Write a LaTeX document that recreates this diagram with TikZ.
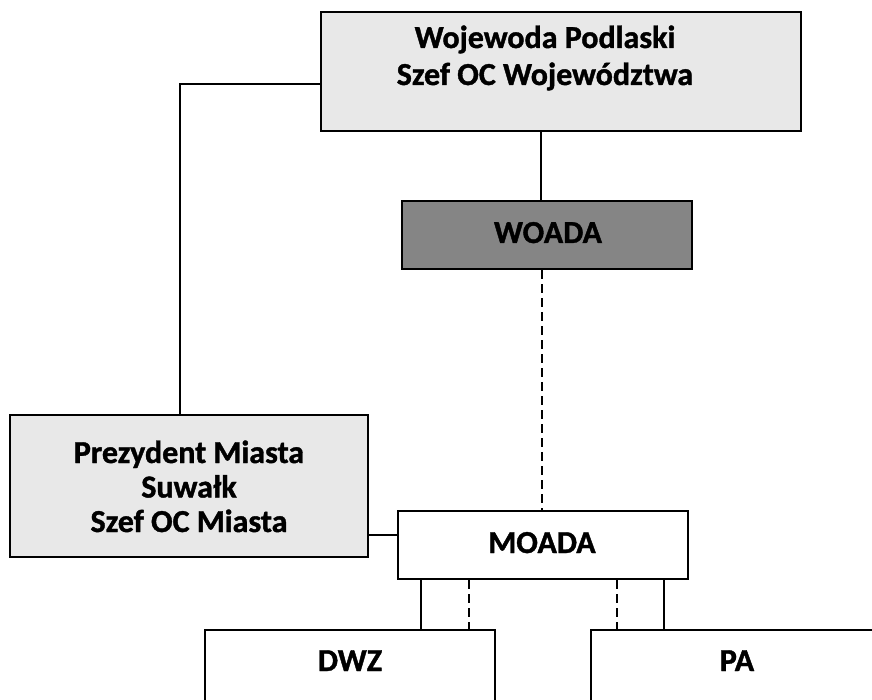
\documentclass[tikz,border=0pt]{standalone}
\usepackage{fontspec}
\setmainfont{Carlito}[BoldFeatures={FakeBold=1.2}]
\begin{document}
\begin{tikzpicture}[x=1pt,y=-1pt,
  box/.style={draw, rectangle, line width=2.8pt, inner sep=0pt},
  lightbox/.style={box, fill=black!9},
  darkbox/.style={box, fill=black!48},
  whitebox/.style={box, fill=white},
  conn/.style={line width=2pt},
  dashline/.style={line width=2pt, dash pattern=on 9pt off 5pt},
  txt/.style={font=\bfseries\fontsize{32}{37}\selectfont, anchor=base, inner sep=0pt}]
\useasboundingbox (0,0) rectangle (872,700);
\clip (0,0) rectangle (872,700);
\fill[white] (0,0) rectangle (872,700);
% boxes
\node[lightbox, minimum width=480pt, minimum height=119pt] (top) at (561,71.5) {};
\node[darkbox, minimum width=290pt, minimum height=68pt] (woada) at (547,235) {};
\node[lightbox, minimum width=358pt, minimum height=142pt] (prez) at (189,486) {};
\node[whitebox, minimum width=290pt, minimum height=68pt] (moada) at (543,545) {};
\node[whitebox, minimum width=290pt, minimum height=90pt] (dwz) at (350,675) {};
\node[whitebox, minimum width=292pt, minimum height=90pt] (pa) at (737,675) {};
% texts
\node[txt] (t1) at (545,48) {Wojewoda Podlaski};
\node[txt] (t2) at (545,85) {Szef OC Województwa};
\node[txt] (t3) at (548,243) {WOADA};
\node[txt] (t4) at (189,463) {Prezydent Miasta};
\node[txt] (t5) at (189,497.5) {Suwałk};
\node[txt] (t6) at (189,532) {Szef OC Miasta};
\node[txt] (t7) at (542,553) {MOADA};
\node[txt] (t8) at (350,671) {DWZ};
\node[txt] (t9) at (737,671) {PA};
% connectors
\draw[conn] ([xshift=-20pt]top.south) -- ([xshift=-20pt]top.south |- woada.north);
\draw[conn] ([yshift=-12.5pt]top.west) -| ([xshift=-9pt]prez.north);
\draw[dashline] ([xshift=-5pt]woada.south) -- ([xshift=-5pt]woada.south |- moada.north);
\draw[conn] ([yshift=-49pt]prez.east) -- ([yshift=-49pt]prez.east -| moada.west);
\draw[conn] ([xshift=24pt]moada.south west) -- ([xshift=24pt]moada.south west |- dwz.north);
\draw[dashline] ([xshift=72pt]moada.south west) -- ([xshift=72pt]moada.south west |- dwz.north);
\draw[dashline] ([xshift=-72pt]moada.south east) -- ([xshift=-72pt]moada.south east |- pa.north);
\draw[conn] ([xshift=-25pt]moada.south east) -- ([xshift=-25pt]moada.south east |- pa.north);
\end{tikzpicture}
\end{document}
